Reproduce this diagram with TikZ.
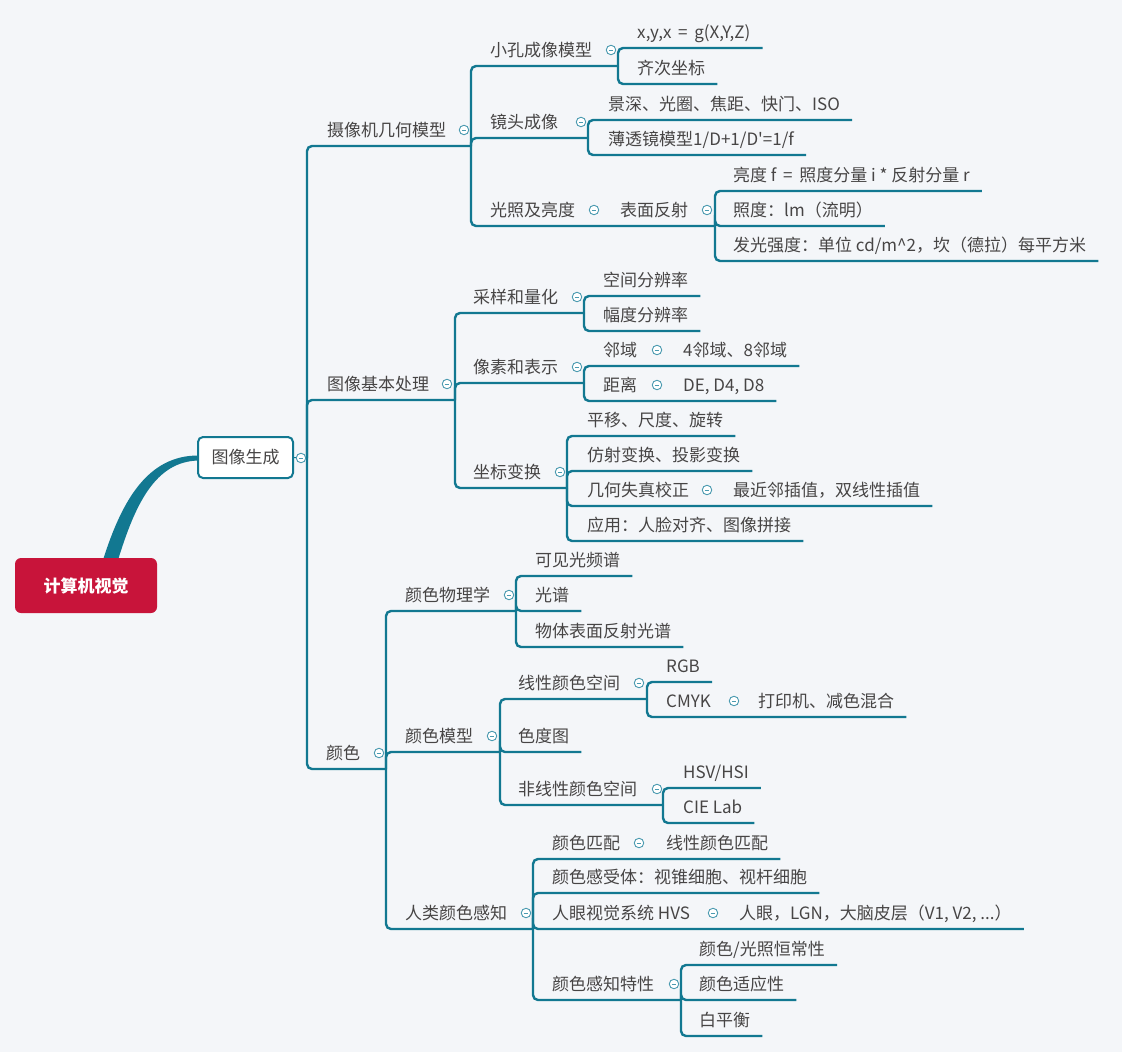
\documentclass[tikz,border=0pt]{standalone}
\usepackage{fontspec}
\setmainfont{Noto Sans CJK SC}
\newfontfamily\plainf[Ligatures=TeXOff]{Noto Sans CJK SC}
\definecolor{teal1}{HTML}{127891}
\definecolor{tcirc}{HTML}{4A9AB0}
\definecolor{txt}{HTML}{474545}
\definecolor{rootred}{HTML}{C8143A}
\definecolor{bgc}{HTML}{F4F6F9}
\newcommand\ue[1]{([xshift=12pt,yshift=-16pt]#1.east)}
\begin{document}
\begin{tikzpicture}[x=1pt,y=-1pt,
  t/.style={anchor=west,inner sep=0pt,text=txt,text height=13pt,text depth=1pt,font=\fontsize{17}{19}\selectfont},
  conn/.style={draw=teal1,line width=2.4pt,rounded corners=5pt},
  fold/.style={circle,draw=tcirc,fill=white,line width=0.9pt,minimum size=9.5pt,inner sep=0pt,
    path picture={\draw[tcirc,line width=0.8pt] ([xshift=-2.4pt]path picture bounding box.center) -- ([xshift=2.4pt]path picture bounding box.center);}},
  rootbox/.style={fill=rootred,rounded corners=6pt,minimum width=142pt,minimum height=55pt,text=white,font=\fontsize{17}{19}\selectfont\bfseries},
  genbox/.style={draw=teal1,line width=2pt,fill=white,rounded corners=5pt,minimum width=95pt,minimum height=41pt,text=txt,font=\fontsize{17}{19}\selectfont}]
\fill[bgc] (0,0) rectangle (1122,1052);
\useasboundingbox (0,0) rectangle (1122,1052);

% bar coordinates
\coordinate (bgen) at (307,458);
\coordinate (bcam) at (471,146);
\coordinate (bproc) at (455,400);
\coordinate (bcolor) at (386,769);
\coordinate (bpin) at (618,66);
\coordinate (blens) at (588,138);
\coordinate (brefl) at (715,226);
\coordinate (bsamp) at (584,313);
\coordinate (bpix) at (584,383);
\coordinate (bcoord) at (567,488);
\coordinate (bphys) at (516,611);
\coordinate (bmodel) at (500,752);
\coordinate (blin) at (647,699);
\coordinate (bnonlin) at (663,805);
\coordinate (bhuman) at (533,929);
\coordinate (bprop) at (681,1000);

% texts
\node[t] (cam) at (327,130) {摄像机几何模型};
\node[t] (proc) at (327,384) {图像基本处理};
\node[t] (color) at (326,753) {颜色};
\node[t] (pin) at (490,50) {小孔成像模型};
\node[t] (lens) at (490,122) {镜头成像};
\node[t] (light) at (490,210) {光照及亮度};
\node[t] (refl) at (620,210) {表面反射};
\node[t] (xyz) at (637,32) {x,y,x\, = \,g(X,Y,Z)};
\node[t] (homo) at (637,68) {齐次坐标};
\node[t] (dof) at (608,104) {景深、光圈、焦距、快门、ISO};
\node[t] (thin) at (608,139) {\plainf 薄透镜模型1/D+1/D'=1/f};
\node[t] (lum) at (733,175) {亮度 f\, = \,照度分量 i * 反射分量 r};
\node[t] (illu) at (733,210) {照度：lm（流明）};
\node[t] (inten) at (733,245) {发光强度：单位 cd/m\textasciicircum 2，坎（德拉）每平方米};
\node[t] (samp) at (473,297) {采样和量化};
\node[t] (spat) at (603,280) {空间分辨率};
\node[t] (ampl) at (603,315) {幅度分辨率};
\node[t] (pix) at (473,367) {像素和表示};
\node[t] (nbr) at (603,350) {邻域};
\node[t] (nbrv) at (683,350) {4邻域、8邻域};
\node[t] (dist) at (603,385) {距离};
\node[t] (distv) at (683,385) {DE, D4, D8};
\node[t] (coord) at (473,472) {坐标变换};
\node[t] (trs) at (587,420) {平移、尺度、旋转};
\node[t] (aff) at (587,455) {仿射变换、投影变换};
\node[t] (geo) at (587,490) {几何失真校正};
\node[t] (interp) at (733,490) {最近邻插值，双线性插值};
\node[t] (app) at (587,525) {应用：人脸对齐、图像拼接};
\node[t] (phys) at (405,595) {颜色物理学};
\node[t] (vis) at (535,560) {可见光频谱};
\node[t] (spec) at (535,595) {光谱};
\node[t] (surf) at (535,631) {物体表面反射光谱};
\node[t] (model) at (405,736) {颜色模型};
\node[t] (lin) at (518,683) {线性颜色空间};
\node[t] (rgb) at (666,666) {RGB};
\node[t] (cmyk) at (666,701) {CMYK};
\node[t] (print) at (758,701) {打印机、减色混合};
\node[t] (chrom) at (518,736) {色度图};
\node[t] (nonlin) at (518,789) {非线性颜色空间};
\node[t] (hsv) at (683,772) {HSV/HSI};
\node[t] (cie) at (683,807) {CIE Lab};
\node[t] (human) at (405,913) {人类颜色感知};
\node[t] (match) at (552,843) {颜色匹配};
\node[t] (linm) at (666,843) {线性颜色匹配};
\node[t] (recep) at (552,877) {颜色感受体：视锥细胞、视杆细胞};
\node[t] (hvs) at (552,913) {人眼视觉系统 HVS};
\node[t] (hvsv) at (739,913) {人眼，LGN，大脑皮层（V1, V2, ...）};
\node[t] (prop) at (552,984) {颜色感知特性};
\node[t] (const) at (699,949) {颜色/光照恒常性};
\node[t] (adapt) at (699,984) {颜色适应性};
\node[t] (wb) at (699,1020) {白平衡};

% connectors
\draw[conn] (bgen) |- (bcam);
\draw[conn] (bgen) |- (bproc);
\draw[conn] (bgen) |- (bcolor);
\draw[conn] (bcam) |- (bpin);
\draw[conn] (bcam) |- (blens);
\draw[conn] (bcam) |- (brefl);
\draw[conn] (bpin) |- \ue{xyz};
\draw[conn] (bpin) |- \ue{homo};
\draw[conn] (blens) |- \ue{dof};
\draw[conn] (blens) |- \ue{thin};
\draw[conn] (brefl) |- \ue{lum};
\draw[conn] (brefl) |- \ue{illu};
\draw[conn] (brefl) |- \ue{inten};
\draw[conn] (bproc) |- (bsamp);
\draw[conn] (bproc) |- (bpix);
\draw[conn] (bproc) |- (bcoord);
\draw[conn] (bsamp) |- \ue{spat};
\draw[conn] (bsamp) |- \ue{ampl};
\draw[conn] (bpix) |- \ue{nbrv};
\draw[conn] (bpix) |- \ue{distv};
\draw[conn] (bcoord) |- \ue{trs};
\draw[conn] (bcoord) |- \ue{aff};
\draw[conn] (bcoord) |- \ue{interp};
\draw[conn] (bcoord) |- \ue{app};
\draw[conn] (bcolor) |- (bphys);
\draw[conn] (bcolor) |- (bmodel);
\draw[conn] (bcolor) |- (bhuman);
\draw[conn] (bphys) |- \ue{vis};
\draw[conn] (bphys) |- \ue{spec};
\draw[conn] (bphys) |- \ue{surf};
\draw[conn] (bmodel) |- (blin);
\draw[conn] (bmodel) |- \ue{chrom};
\draw[conn] (bmodel) |- (bnonlin);
\draw[conn] (blin) |- \ue{rgb};
\draw[conn] (blin) |- \ue{print};
\draw[conn] (bnonlin) |- \ue{hsv};
\draw[conn] (bnonlin) |- \ue{cie};
\draw[conn] (bhuman) |- \ue{linm};
\draw[conn] (bhuman) |- \ue{recep};
\draw[conn] (bhuman) |- \ue{hvsv};
\draw[conn] (bhuman) |- (bprop);
\draw[conn] (bprop) |- \ue{const};
\draw[conn] (bprop) |- \ue{adapt};
\draw[conn] (bprop) |- \ue{wb};

% root and first topic
\fill[teal1] (199,455.5) .. controls (148,455) and (122,500) .. (103,560) -- (118,560) .. controls (135,505) and (155,461) .. (199,460.5) -- cycle;
\node[rootbox] (root) at (86,585.5) {计算机视觉};
\node[genbox] (gen) at (245.5,457.5) {图像生成};
\draw[teal1,line width=1pt] (gen.east) -- (bgen);

% fold markers
\node[fold] (fgen) at (301,458) {};
\node[fold] (fcam) at (464,130) {};
\node[fold] (fproc) at (447,384) {};
\node[fold] (fcolor) at (379,753) {};
\node[fold] (fpin) at (611,50) {};
\node[fold] (flens) at (581,122) {};
\node[fold] (flight) at (594,210) {};
\node[fold] (frefl) at (707,210) {};
\node[fold] (fsamp) at (577,297) {};
\node[fold] (fpix) at (577,367) {};
\node[fold] (fnbr) at (657,350) {};
\node[fold] (fdist) at (657,385) {};
\node[fold] (fcoord) at (560,472) {};
\node[fold] (fgeo) at (707,490) {};
\node[fold] (fphys) at (509,595) {};
\node[fold] (fmodel) at (492,736) {};
\node[fold] (flin) at (639,683) {};
\node[fold] (fcmyk) at (734,701) {};
\node[fold] (fnonlin) at (657,789) {};
\node[fold] (fhuman) at (526,913) {};
\node[fold] (fmatch) at (639,843) {};
\node[fold] (fhvs) at (713,913) {};
\node[fold] (fprop) at (674,984) {};
\end{tikzpicture}
\end{document}
